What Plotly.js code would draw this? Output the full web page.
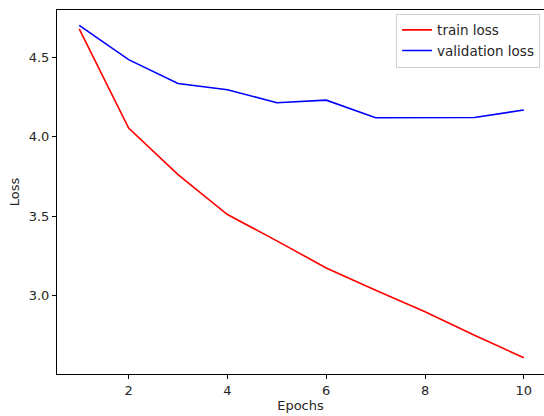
<!DOCTYPE html>
<html>
<head>
<meta charset="utf-8">
<script src="https://cdn.plot.ly/plotly-3.0.1.min.js"></script>
<style>html,body{margin:0;padding:0;background:#fff;}#chart{width:544px;height:416px;}</style>
</head>
<body>
<div id="chart"></div>
<script>
const epochs = [1, 2, 3, 4, 5, 6, 7, 8, 9, 10];
const trainLoss = [4.678, 4.055, 3.762, 3.511, 3.345, 3.175, 3.035, 2.900, 2.752, 2.610];
const validationLoss = [4.700, 4.485, 4.335, 4.296, 4.214, 4.230, 4.119, 4.120, 4.121, 4.168];
const xTicks = [2, 4, 6, 8, 10];
const yTicks = [3.0, 3.5, 4.0, 4.5];
const yTickText = ['3.0', '3.5', '4.0', '4.5'];

const traces = [
  {x: epochs, y: trainLoss, type: 'scatter', mode: 'lines', name: 'train loss',
   line: {color: '#ff0000', width: 1.6}},
  {x: epochs, y: validationLoss, type: 'scatter', mode: 'lines', name: 'validation loss',
   line: {color: '#0000ff', width: 1.6}}
];

const font = {family: 'DejaVu Sans', size: 13, color: '#262626'};

const layout = {
  width: 544, height: 416,
  margin: {l: 57, r: 0, t: 10, b: 42, pad: 0},
  paper_bgcolor: '#ffffff', plot_bgcolor: '#ffffff',
  font: font,
  showlegend: true,
  legend: {
    x: 0.992, y: 0.99, xanchor: 'right', yanchor: 'top',
    bgcolor: 'rgba(255,255,255,0.8)', bordercolor: '#d0d0d0', borderwidth: 1,
    font: {family: 'DejaVu Sans', size: 13.5, color: '#262626'},
    tracegroupgap: 0
  },
  xaxis: {
    range: [0.55, 10.408], tickvals: xTicks, ticktext: xTicks.map(String),
    showgrid: false, zeroline: false,
    showline: true, linecolor: '#000', linewidth: 1, mirror: true,
    ticks: 'outside', ticklen: 4, tickcolor: '#000', tickwidth: 1,
    tickfont: font,
    title: {text: 'Epochs', font: font, standoff: 4}
  },
  yaxis: {
    range: [2.508, 4.797], tickvals: yTicks, ticktext: yTickText,
    showgrid: false, zeroline: false,
    showline: true, linecolor: '#000', linewidth: 1,
    ticks: 'outside', ticklen: 4, tickcolor: '#000', tickwidth: 1,
    tickfont: font,
    title: {text: 'Loss', font: font, standoff: 6}
  }
};

Plotly.newPlot('chart', traces, layout, {displayModeBar: false, staticPlot: true});
</script>
</body>
</html>
